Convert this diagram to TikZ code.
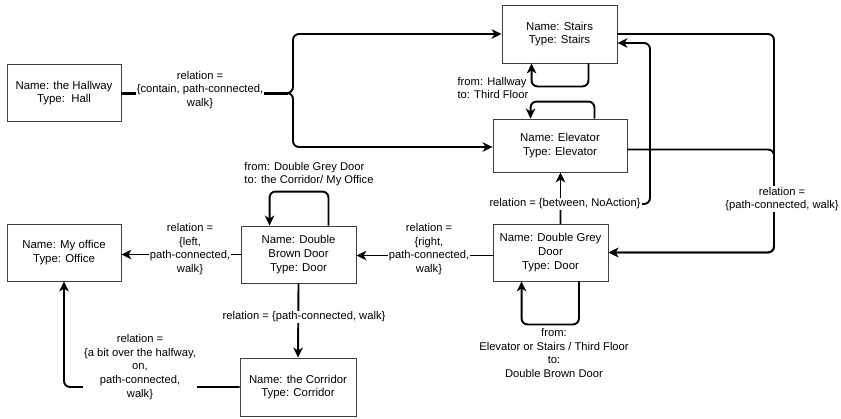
\documentclass[tikz,border=0pt]{standalone}
\usepackage{fontspec}
\setmainfont{Liberation Sans}
\usetikzlibrary{arrows.meta}
\begin{document}
\begin{tikzpicture}[x=1pt,y=-1pt,
  box/.style={draw=black!75, line width=0.9pt, fill=white, align=center, inner sep=2pt,
    font=\fontsize{11.4}{13.8}\selectfont},
  conn/.style={line width=1.9pt, rounded corners=6pt, line join=round},
  arr/.style={conn, -{Stealth[length=10pt,width=9.5pt,inset=3pt]}},
  lbl/.style={fill=white, align=center, inner sep=1pt, font=\fontsize{11.2}{13.6}\selectfont},
  lbln/.style={align=center, inner sep=1pt, font=\fontsize{11.2}{13.6}\selectfont}]
\useasboundingbox (0,0) rectangle (841,418);

% nodes
\node[box, minimum width=114pt, minimum height=57pt] (hall) at (64,93) {Name: the Hallway\\Type:\ \ Hall};
\node[box, minimum width=115pt, minimum height=58pt] (stairs) at (559.5,34) {Name: Stairs\\Type: Stairs};
\node[box, minimum width=134pt, minimum height=53pt] (elev) at (560,145.5) {Name: Elevator\\Type: Elevator};
\node[box, minimum width=115pt, minimum height=57pt] (dgd) at (550.5,252.5) {Name: Double Grey\\Door\\Type: Door};
\node[box, minimum width=115pt, minimum height=57pt] (dbd) at (298.5,254.5) {Name: Double\\Brown Door\\Type: Door};
\node[box, minimum width=114pt, minimum height=57pt] (office) at (64,252.5) {Name: My office\\Type: Office};
\node[box, minimum width=116pt, minimum height=58pt] (corr) at (298,387) {Name: the Corridor\\Type: Corridor};

\coordinate (brace) at (293,93);

% hallway -> stairs / elevator
\draw[line width=3pt] (hall.east) -- (288,93);
\draw[arr] (hall.east) -- (brace) |- (stairs.west);
\draw[arr] (hall.east) -- (brace) |- ([yshift=-1.5pt]elev.west);
\node[lbl] at (200,90) {relation =\\{\{}contain, path-connected,\\walk\}};

% stairs self loop
\draw[arr] ([xshift=-29pt]stairs.south east) -- ++(0,23) -| ([xshift=30pt]stairs.south west);
\node[lbln, align=left] at (493,88) {from: Hallway\\to: Third Floor};

% elevator self loop
\draw[arr] ([xshift=-33pt]elev.north east) -- ++(0,-17) -| ([xshift=38pt]elev.north west);

% stairs / elevator -> double grey door
\coordinate (rc) at (774,34);
\draw[arr] (stairs.east) -- (rc) |- (dgd.east);
\draw[arr] ([yshift=-4pt]elev.east) -- (774,149.5) |- (dgd.east);
\node[lbl] at (782,199) {relation =\\{\{}path-connected, walk\}};

% double grey door -> elevator, -> stairs
\coordinate (nb) at (650,204);
\draw[arr] ([xshift=10pt]dgd.north) |- (nb) |- ([yshift=-9pt]stairs.east);
\draw[arr] ([xshift=10pt]dgd.north) -- ([xshift=10pt]dgd.north |- elev.south);
\node[lbl] at (565,204) {relation = \{between, NoAction\}};

% dgd self loop
\draw[arr] ([xshift=-29.5pt]dgd.south east) -- ++(0,43) -| ([xshift=29pt]dgd.south west);
\node[lbln] at (554,353) {from:\\Elevator or Stairs / Third Floor\\to:\\Double Brown Door};

% dgd -> dbd
\draw[arr] ([yshift=-3pt]dgd.west) -- ([yshift=-3pt]dgd.west -| dbd.east);
\node[lbl] at (429,249) {relation =\\{\{}right,\\path-connected,\\walk\}};

% dbd -> office
\draw[arr] (dbd.west) -- (dbd.west -| office.east);
\node[lbl] at (190,249) {relation =\\{\{}left,\\path-connected,\\walk\}};

% dbd self loop
\draw[arr] ([xshift=-28pt]dbd.north east) -- ++(0,-34) -| ([xshift=29pt]dbd.north west);
\node[lbln, align=left] at (309,174) {from: Double Grey Door\\to: the Corridor/ My Office};

% dbd -> corridor
\draw[arr] (dbd.south) -- (corr.north);
\node[lbl] at (304,317) {relation = \{path-connected, walk\}};

% corridor -> office
\draw[arr] (corr.west) -| (office.south);
\node[lbl] at (140,367) {relation =\\{\{}a bit over the halfway,\\on,\\path-connected,\\walk\}};
\end{tikzpicture}
\end{document}
